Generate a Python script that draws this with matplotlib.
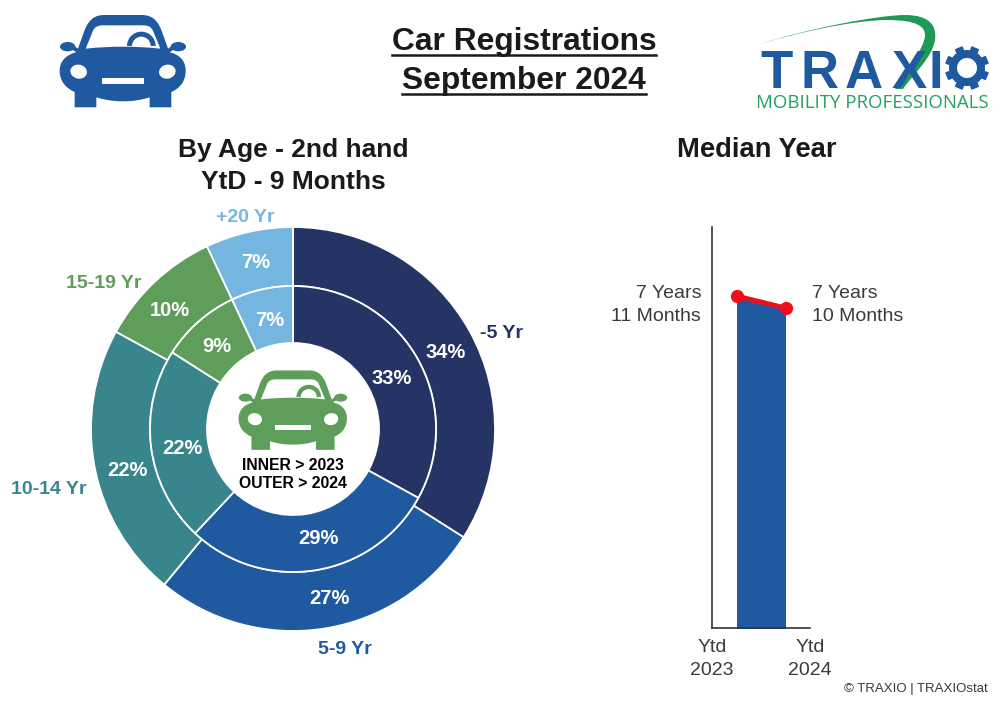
import numpy as np
import matplotlib
matplotlib.use('Agg')
import matplotlib.pyplot as plt
from matplotlib.path import Path
from matplotlib.patches import PathPatch, Ellipse, Rectangle, Wedge

plt.rcParams['font.family'] = ['Liberation Sans', 'DejaVu Sans']

age_groups = ['-5 Yr', '5-9 Yr', '10-14 Yr', '15-19 Yr', '+20 Yr']
share_2023 = [33, 29, 22, 9, 7]
share_2024 = [34, 27, 22, 10, 7]

median_labels = ['Ytd\n2023', 'Ytd\n2024']
median_months = [95, 94]
median_texts = ['7 Years\n11 Months', '7 Years\n10 Months']

NAVY = '#253464'
BLUE = '#1f5aa0'
TEAL = '#38868c'
GREEN = '#5e9e5a'
LIGHT = '#74b6e0'
age_colors = [NAVY, BLUE, TEAL, GREEN, LIGHT]
LOGO_GREEN = '#1f9a55'
DARK = '#1a1a1a'
GREY = '#3a3a3a'


def draw_car(ax, cx, cy, scale, color):
    # car outline in units of the 3x zoom, origin at the middle of the car
    def pt(x, y):
        return (cx + (x - 250) / 3 * scale, cy + (y - 183) / 3 * scale)

    def patch(cmds, fc):
        verts = [pt(*c[1]) for c in cmds]
        ax.add_patch(PathPatch(Path(verts, [c[0] for c in cmds]), fc=fc, ec='none'))

    M, L, C, Z = Path.MOVETO, Path.LINETO, Path.CURVE4, Path.CLOSEPOLY
    # roof
    patch([(M, (108, 165)), (L, (135, 90)), (C, (148, 58)), (C, (165, 45)), (C, (195, 45)), (L, (305, 45)),
           (C, (335, 45)), (C, (352, 58)), (C, (365, 90)), (L, (392, 165)), (Z, (108, 165))], color)
    # body
    patch([(M, (105, 158)), (C, (72, 168)), (C, (60, 190)), (C, (60, 212)), (C, (60, 245)),
           (C, (80, 265)), (C, (105, 276)), (L, (105, 322)), (L, (170, 322)), (L, (170, 292)),
           (C, (220, 308)), (C, (280, 308)), (C, (330, 292)), (L, (330, 322)), (L, (395, 322)),
           (L, (395, 276)), (C, (420, 265)), (C, (438, 245)), (C, (438, 212)), (C, (438, 190)),
           (C, (428, 168)), (C, (395, 158)), (C, (330, 135)), (C, (170, 135)), (C, (105, 158)),
           (Z, (105, 158))], color)
    # mirrors
    for x, x_in in ((100, 118), (400, 382)):
        ax.add_patch(Ellipse(pt(2 * x - 116 if x < 250 else 2 * x - 384, 140), 46 / 3 * scale, 28 / 3 * scale,
                             fc=color, ec='none'))
        patch([(M, (x, 136)), (L, (x_in, 148)), (L, (x_in, 162)), (L, (x, 150)), (Z, (x, 136))], color)
    # windshield
    patch([(M, (138, 146)), (L, (160, 92)), (C, (166, 80)), (C, (175, 76)), (C, (190, 76)),
           (L, (310, 76)), (C, (325, 76)), (C, (334, 80)), (C, (340, 92)), (L, (362, 146)),
           (C, (290, 138)), (C, (210, 138)), (C, (138, 146)), (Z, (138, 146))], 'white')
    # steering wheel
    ax.add_patch(Wedge(pt(305, 138), 43 / 3 * scale, 180, 360, width=15 / 3 * scale, fc=color, ec='none'))
    # lights and grille
    for x, ang in ((117, 12), (383, -12)):
        ax.add_patch(Ellipse(pt(x, 215), 50 / 3 * scale, 42 / 3 * scale, angle=ang, fc='white', ec='none'))
    x0, y0 = pt(187, 235)
    x1, y1 = pt(312, 252)
    ax.add_patch(Rectangle((x0, y0), x1 - x0, y1 - y0, fc='white', ec='none'))


def draw_logo(ax):
    M, L, C, Z = Path.MOVETO, Path.LINETO, Path.CURVE4, Path.CLOSEPOLY
    swoosh = [(M, (760, 44)), (C, (810, 28)), (C, (880, 15)), (C, (905, 15)), (C, (930, 15)),
              (C, (937, 26)), (C, (935, 40)), (C, (932, 58)), (C, (915, 72)), (L, (903, 89)),
              (L, (895, 89)), (C, (905, 72)), (C, (925, 48)), (C, (925, 35)), (C, (925, 22)),
              (C, (905, 20)), (C, (885, 20)), (C, (850, 21)), (C, (800, 32)), (C, (760, 44)),
              (Z, (760, 44))]
    for letter, x in zip('TRAXI', [777, 820, 864, 909, 936]):
        ax.text(x, 88, letter, fontsize=38, fontweight='bold', color=BLUE, ha='center', va='baseline')
    ax.add_patch(PathPatch(Path([c[1] for c in swoosh], [c[0] for c in swoosh]), fc=LOGO_GREEN, ec='none'))
    # gear
    gx, gy = 967, 68
    ax.add_patch(Wedge((gx, gy), 18, 0, 360, width=8, fc=BLUE, ec='none'))
    for ang in np.arange(0, 360, 45) + 22.5:
        a = np.radians(ang)
        ax.plot([gx + 16 * np.cos(a), gx + 22 * np.cos(a)], [gy + 16 * np.sin(a), gy + 22 * np.sin(a)],
                color=BLUE, lw=6, solid_capstyle='butt')
    ax.text(872.5, 103, 'MOBILITY PROFESSIONALS', fontsize=13.4, color='#23a062', family='Open Sans',
            ha='center', va='center')


fig = plt.figure(figsize=(10, 7.1), dpi=100)

# donut, one pie per year
cx, cy, r_out, r_mid, r_in = 293, 429, 202, 143, 86
ax_pie = fig.add_axes([(cx - r_out) / 1000, (710 - cy - r_out) / 710, 2 * r_out / 1000, 2 * r_out / 710])
white_edge = {'edgecolor': 'white', 'linewidth': 1.3}
ax_pie.pie(share_2024, radius=1, colors=age_colors, startangle=90, counterclock=False,
           wedgeprops=dict(width=1 - r_mid / r_out, **white_edge))
ax_pie.pie(share_2023, radius=r_mid / r_out, colors=age_colors, startangle=90, counterclock=False,
           wedgeprops=dict(width=(r_mid - r_in) / r_out, **white_edge))
ax_pie.set_xlim(-1, 1)
ax_pie.set_ylim(-1, 1)

# median year area
ax_bar = fig.add_axes([712 / 1000, (710 - 628) / 710, 98 / 1000, 401 / 710])
x = [0, 1]
ax_bar.fill_between(x, median_months, 60, color=BLUE, lw=0)
ax_bar.plot(x, median_months, color='#f00d1c', lw=3.5, marker='o', ms=8.5, clip_on=False, zorder=5)
ax_bar.set_xlim(-0.5, 1.5)
ax_bar.set_ylim(67.33, 100.75)
ax_bar.set_yticks([])
ax_bar.set_xticks([-0.5, 1.5], median_labels, fontsize=14, color=GREY, linespacing=1.45)
ax_bar.tick_params(axis='x', length=0, pad=8)
ax_bar.spines[['top', 'right']].set_visible(False)
ax_bar.spines[['left', 'bottom']].set_color('#333333')
ax_bar.spines[['left', 'bottom']].set_linewidth(1.2)
ax_bar.patch.set_alpha(0)

# everything else in picture pixels
ax = fig.add_axes([0, 0, 1, 1], zorder=5)
ax.set_xlim(0, 1000)
ax.set_ylim(710, 0)
ax.axis('off')
ax.patch.set_alpha(0)

title_lines = []
for text, y in (('Car Registrations', 42), ('September 2024', 81)):
    title_lines.append(ax.text(524, y, text, fontsize=22.9, fontweight='bold', color=DARK, ha='center', va='center'))
fig.canvas.draw()
for t, y_line in zip(title_lines, (54.5, 93.5)):
    box = t.get_window_extent().transformed(ax.transData.inverted())
    ax.plot([box.x0, box.x1], [y_line, y_line], color=DARK, lw=1.8)

ax.text(293, 166, 'By Age - 2nd hand\nYtD - 9 Months', fontsize=19, fontweight='bold', color=DARK,
        ha='center', va='center', linespacing=1.38)
ax.text(757, 150, 'Median Year', fontsize=19.7, fontweight='bold', color=DARK, ha='center', va='center')

label_pos = [(502, 333), (345, 649), (49, 490), (104, 284), (245, 217)]
for name, pos, col in zip(age_groups, label_pos, age_colors):
    ax.text(pos[0], pos[1], name, color=col, fontsize=14, fontweight='bold', ha='center', va='center')

outer_pos = [(446, 352), (329, 599), (127, 471), (170, 311), (256, 263)]
inner_pos = [(392, 378), (318, 538), (182, 449), (217, 347), (270, 321)]
for values, positions in ((share_2024, outer_pos), (share_2023, inner_pos)):
    for v, pos in zip(values, positions):
        ax.text(pos[0], pos[1], f'{v}%', color='white', fontsize=14.5, fontweight='bold', ha='center', va='center')

ax.text(701, 305, median_texts[0], fontsize=14, color=GREY, ha='right', va='center', linespacing=1.4)
ax.text(812, 305, median_texts[1], fontsize=14, color=GREY, ha='left', va='center', linespacing=1.4)
ax.text(988, 689, '© TRAXIO | TRAXIOstat', fontsize=9.5, color=GREY, ha='right', va='center')

ax.text(293, 474.5, 'INNER > 2023\nOUTER > 2024', fontsize=11.3, fontweight='bold', color='black',
        ha='center', va='center', linespacing=1.3)

draw_car(ax, 123, 61, 1.0, BLUE)
draw_car(ax, 293, 410, 0.86, GREEN)
draw_logo(ax)

fig.savefig('out.png', dpi=100)
